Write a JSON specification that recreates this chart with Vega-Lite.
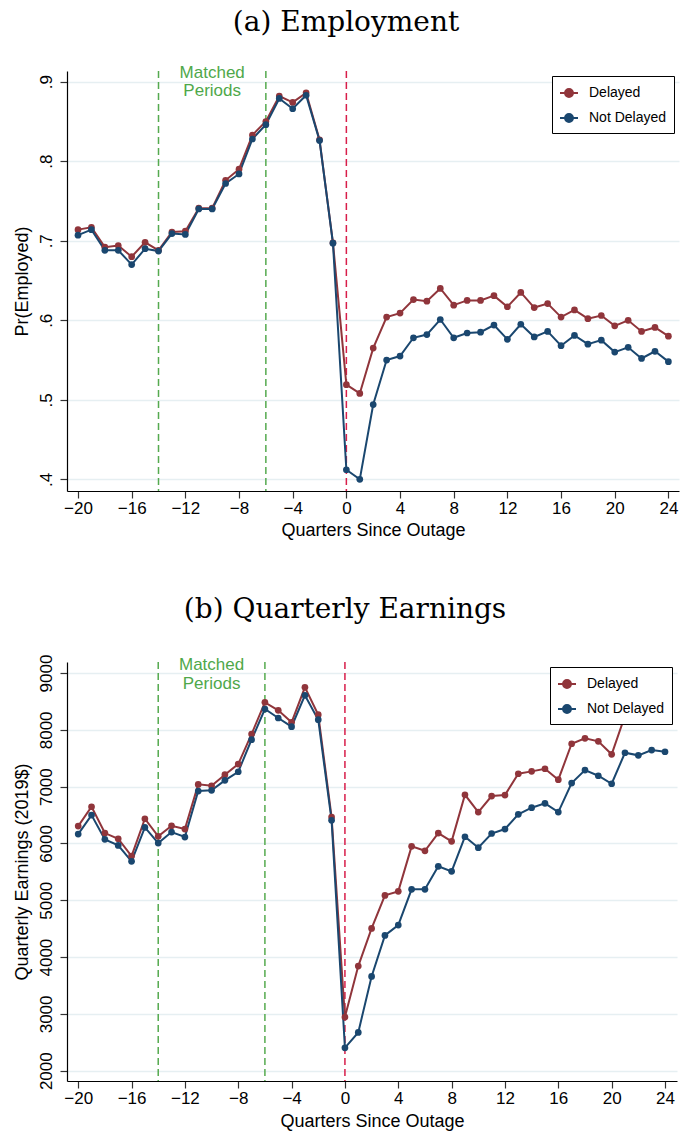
{
  "$schema": "https://vega.github.io/schema/vega-lite/v6.json",
  "padding": {"left": 12, "top": 8, "right": 2, "bottom": 2},
  "spacing": 57,
  "background": "white",
  "resolve": {"legend": {"color": "independent"}},
  "datasets": {
    "emp": [
      {"q": -20, "group": "Delayed", "v": 0.714}, {"q": -19, "group": "Delayed", "v": 0.717}, {"q": -18, "group": "Delayed", "v": 0.692}, {"q": -17, "group": "Delayed", "v": 0.694}, {"q": -16, "group": "Delayed", "v": 0.680}, {"q": -15, "group": "Delayed", "v": 0.698}, {"q": -14, "group": "Delayed", "v": 0.688}, {"q": -13, "group": "Delayed", "v": 0.711}, {"q": -12, "group": "Delayed", "v": 0.712}, {"q": -11, "group": "Delayed", "v": 0.741}, {"q": -10, "group": "Delayed", "v": 0.741}, {"q": -9, "group": "Delayed", "v": 0.776}, {"q": -8, "group": "Delayed", "v": 0.790}, {"q": -7, "group": "Delayed", "v": 0.833}, {"q": -6, "group": "Delayed", "v": 0.850}, {"q": -5, "group": "Delayed", "v": 0.882}, {"q": -4, "group": "Delayed", "v": 0.874}, {"q": -3, "group": "Delayed", "v": 0.886}, {"q": -2, "group": "Delayed", "v": 0.827}, {"q": -1, "group": "Delayed", "v": 0.6975}, {"q": 0, "group": "Delayed", "v": 0.519}, {"q": 1, "group": "Delayed", "v": 0.508}, {"q": 2, "group": "Delayed", "v": 0.565}, {"q": 3, "group": "Delayed", "v": 0.604}, {"q": 4, "group": "Delayed", "v": 0.609}, {"q": 5, "group": "Delayed", "v": 0.626}, {"q": 6, "group": "Delayed", "v": 0.624}, {"q": 7, "group": "Delayed", "v": 0.640}, {"q": 8, "group": "Delayed", "v": 0.619}, {"q": 9, "group": "Delayed", "v": 0.625}, {"q": 10, "group": "Delayed", "v": 0.625}, {"q": 11, "group": "Delayed", "v": 0.631}, {"q": 12, "group": "Delayed", "v": 0.617}, {"q": 13, "group": "Delayed", "v": 0.635}, {"q": 14, "group": "Delayed", "v": 0.616}, {"q": 15, "group": "Delayed", "v": 0.621}, {"q": 16, "group": "Delayed", "v": 0.604}, {"q": 17, "group": "Delayed", "v": 0.613}, {"q": 18, "group": "Delayed", "v": 0.602}, {"q": 19, "group": "Delayed", "v": 0.606}, {"q": 20, "group": "Delayed", "v": 0.593}, {"q": 21, "group": "Delayed", "v": 0.600}, {"q": 22, "group": "Delayed", "v": 0.586}, {"q": 23, "group": "Delayed", "v": 0.591}, {"q": 24, "group": "Delayed", "v": 0.580},
      {"q": -20, "group": "Not Delayed", "v": 0.707}, {"q": -19, "group": "Not Delayed", "v": 0.714}, {"q": -18, "group": "Not Delayed", "v": 0.688}, {"q": -17, "group": "Not Delayed", "v": 0.688}, {"q": -16, "group": "Not Delayed", "v": 0.670}, {"q": -15, "group": "Not Delayed", "v": 0.690}, {"q": -14, "group": "Not Delayed", "v": 0.687}, {"q": -13, "group": "Not Delayed", "v": 0.709}, {"q": -12, "group": "Not Delayed", "v": 0.708}, {"q": -11, "group": "Not Delayed", "v": 0.740}, {"q": -10, "group": "Not Delayed", "v": 0.740}, {"q": -9, "group": "Not Delayed", "v": 0.772}, {"q": -8, "group": "Not Delayed", "v": 0.784}, {"q": -7, "group": "Not Delayed", "v": 0.828}, {"q": -6, "group": "Not Delayed", "v": 0.846}, {"q": -5, "group": "Not Delayed", "v": 0.879}, {"q": -4, "group": "Not Delayed", "v": 0.866}, {"q": -3, "group": "Not Delayed", "v": 0.883}, {"q": -2, "group": "Not Delayed", "v": 0.826}, {"q": -1, "group": "Not Delayed", "v": 0.697}, {"q": 0, "group": "Not Delayed", "v": 0.412}, {"q": 1, "group": "Not Delayed", "v": 0.400}, {"q": 2, "group": "Not Delayed", "v": 0.494}, {"q": 3, "group": "Not Delayed", "v": 0.550}, {"q": 4, "group": "Not Delayed", "v": 0.555}, {"q": 5, "group": "Not Delayed", "v": 0.578}, {"q": 6, "group": "Not Delayed", "v": 0.582}, {"q": 7, "group": "Not Delayed", "v": 0.601}, {"q": 8, "group": "Not Delayed", "v": 0.578}, {"q": 9, "group": "Not Delayed", "v": 0.584}, {"q": 10, "group": "Not Delayed", "v": 0.585}, {"q": 11, "group": "Not Delayed", "v": 0.594}, {"q": 12, "group": "Not Delayed", "v": 0.576}, {"q": 13, "group": "Not Delayed", "v": 0.595}, {"q": 14, "group": "Not Delayed", "v": 0.579}, {"q": 15, "group": "Not Delayed", "v": 0.586}, {"q": 16, "group": "Not Delayed", "v": 0.568}, {"q": 17, "group": "Not Delayed", "v": 0.581}, {"q": 18, "group": "Not Delayed", "v": 0.570}, {"q": 19, "group": "Not Delayed", "v": 0.575}, {"q": 20, "group": "Not Delayed", "v": 0.560}, {"q": 21, "group": "Not Delayed", "v": 0.566}, {"q": 22, "group": "Not Delayed", "v": 0.552}, {"q": 23, "group": "Not Delayed", "v": 0.561}, {"q": 24, "group": "Not Delayed", "v": 0.548}
    ],
    "earn": [
      {"q": -20, "group": "Delayed", "v": 6306}, {"q": -19, "group": "Delayed", "v": 6646}, {"q": -18, "group": "Delayed", "v": 6183}, {"q": -17, "group": "Delayed", "v": 6083}, {"q": -16, "group": "Delayed", "v": 5778}, {"q": -15, "group": "Delayed", "v": 6435}, {"q": -14, "group": "Delayed", "v": 6125}, {"q": -13, "group": "Delayed", "v": 6312}, {"q": -12, "group": "Delayed", "v": 6254}, {"q": -11, "group": "Delayed", "v": 7040}, {"q": -10, "group": "Delayed", "v": 7016}, {"q": -9, "group": "Delayed", "v": 7210}, {"q": -8, "group": "Delayed", "v": 7398}, {"q": -7, "group": "Delayed", "v": 7926}, {"q": -6, "group": "Delayed", "v": 8484}, {"q": -5, "group": "Delayed", "v": 8343}, {"q": -4, "group": "Delayed", "v": 8132}, {"q": -3, "group": "Delayed", "v": 8748}, {"q": -2, "group": "Delayed", "v": 8266}, {"q": -1, "group": "Delayed", "v": 6465}, {"q": 0, "group": "Delayed", "v": 2944}, {"q": 1, "group": "Delayed", "v": 3842}, {"q": 2, "group": "Delayed", "v": 4505}, {"q": 3, "group": "Delayed", "v": 5086}, {"q": 4, "group": "Delayed", "v": 5157}, {"q": 5, "group": "Delayed", "v": 5949}, {"q": 6, "group": "Delayed", "v": 5871}, {"q": 7, "group": "Delayed", "v": 6183}, {"q": 8, "group": "Delayed", "v": 6037}, {"q": 9, "group": "Delayed", "v": 6857}, {"q": 10, "group": "Delayed", "v": 6553}, {"q": 11, "group": "Delayed", "v": 6835}, {"q": 12, "group": "Delayed", "v": 6852}, {"q": 13, "group": "Delayed", "v": 7227}, {"q": 14, "group": "Delayed", "v": 7269}, {"q": 15, "group": "Delayed", "v": 7315}, {"q": 16, "group": "Delayed", "v": 7122}, {"q": 17, "group": "Delayed", "v": 7755}, {"q": 18, "group": "Delayed", "v": 7850}, {"q": 19, "group": "Delayed", "v": 7797}, {"q": 20, "group": "Delayed", "v": 7569}, {"q": 21, "group": "Delayed", "v": 8250}, {"q": 22, "group": "Delayed", "v": 8350}, {"q": 23, "group": "Delayed", "v": 8450}, {"q": 24, "group": "Delayed", "v": 8400},
      {"q": -20, "group": "Not Delayed", "v": 6165}, {"q": -19, "group": "Not Delayed", "v": 6500}, {"q": -18, "group": "Not Delayed", "v": 6072}, {"q": -17, "group": "Not Delayed", "v": 5966}, {"q": -16, "group": "Not Delayed", "v": 5685}, {"q": -15, "group": "Not Delayed", "v": 6283}, {"q": -14, "group": "Not Delayed", "v": 6007}, {"q": -13, "group": "Not Delayed", "v": 6201}, {"q": -12, "group": "Not Delayed", "v": 6113}, {"q": -11, "group": "Not Delayed", "v": 6923}, {"q": -10, "group": "Not Delayed", "v": 6935}, {"q": -9, "group": "Not Delayed", "v": 7111}, {"q": -8, "group": "Not Delayed", "v": 7262}, {"q": -7, "group": "Not Delayed", "v": 7826}, {"q": -6, "group": "Not Delayed", "v": 8366}, {"q": -5, "group": "Not Delayed", "v": 8208}, {"q": -4, "group": "Not Delayed", "v": 8055}, {"q": -3, "group": "Not Delayed", "v": 8607}, {"q": -2, "group": "Not Delayed", "v": 8178}, {"q": -1, "group": "Not Delayed", "v": 6407}, {"q": 0, "group": "Not Delayed", "v": 2403}, {"q": 1, "group": "Not Delayed", "v": 2674}, {"q": 2, "group": "Not Delayed", "v": 3660}, {"q": 3, "group": "Not Delayed", "v": 4382}, {"q": 4, "group": "Not Delayed", "v": 4563}, {"q": 5, "group": "Not Delayed", "v": 5192}, {"q": 6, "group": "Not Delayed", "v": 5192}, {"q": 7, "group": "Not Delayed", "v": 5597}, {"q": 8, "group": "Not Delayed", "v": 5509}, {"q": 9, "group": "Not Delayed", "v": 6118}, {"q": 10, "group": "Not Delayed", "v": 5925}, {"q": 11, "group": "Not Delayed", "v": 6175}, {"q": 12, "group": "Not Delayed", "v": 6254}, {"q": 13, "group": "Not Delayed", "v": 6512}, {"q": 14, "group": "Not Delayed", "v": 6629}, {"q": 15, "group": "Not Delayed", "v": 6706}, {"q": 16, "group": "Not Delayed", "v": 6553}, {"q": 17, "group": "Not Delayed", "v": 7063}, {"q": 18, "group": "Not Delayed", "v": 7292}, {"q": 19, "group": "Not Delayed", "v": 7192}, {"q": 20, "group": "Not Delayed", "v": 7051}, {"q": 21, "group": "Not Delayed", "v": 7597}, {"q": 22, "group": "Not Delayed", "v": 7551}, {"q": 23, "group": "Not Delayed", "v": 7644}, {"q": 24, "group": "Not Delayed", "v": 7614}
    ]
  },
  "vconcat": [
    {
      "title": {"text": "(a) Employment", "offset": 27},
      "width": 612,
      "height": 420,
      "encoding": {
        "x": {"field": "q", "type": "quantitative", "scale": {"domain": [-20.82, 24.79], "nice": false, "zero": false},
              "axis": {"values": [-20, -16, -12, -8, -4, 0, 4, 8, 12, 16, 20, 24], "title": "Quarters Since Outage", "grid": false, "labelPadding": 2, "titlePadding": 5}}
      },
      "layer": [
        {"data": {"values": [{"q": -14}, {"q": -6}]}, "mark": {"type": "rule", "color": "#55aa4f", "strokeDash": [7, 4], "strokeWidth": 1.5}},
        {"data": {"values": [{"q": 0}]}, "mark": {"type": "rule", "color": "#d81e4a", "strokeDash": [7, 4], "strokeWidth": 1.5}},
        {"data": {"values": [{"q": -10, "v": 0.9047, "label": "Matched Periods"}]},
         "mark": {"type": "text", "lineBreak": " ", "color": "#4fa84a", "font": "Liberation Sans", "fontSize": 17, "baseline": "alphabetic", "align": "center", "lineHeight": 18.5},
         "encoding": {"y": {"field": "v", "type": "quantitative", "scale": {"domain": [0.3853, 0.9135], "nice": false, "zero": false}}, "text": {"field": "label"}}},
        {"data": {"name": "emp"}, "mark": {"type": "line", "strokeWidth": 2},
         "encoding": {
           "y": {"field": "v", "type": "quantitative", "scale": {"domain": [0.3853, 0.9135], "nice": false, "zero": false},
                 "axis": {"values": [0.4, 0.5, 0.6, 0.7, 0.8, 0.9], "labelExpr": "replace(format(datum.value, '.1f'), '0.', '.')", "labelAngle": 270, "labelAlign": "center", "labelBaseline": "bottom", "labelPadding": 5, "title": "Pr(Employed)", "titlePadding": 6, "grid": true}},
           "color": {"field": "group", "type": "nominal", "scale": {"domain": ["Delayed", "Not Delayed"], "range": ["#90353b", "#1a476f"]},
                     "legend": {"title": null, "encode": {"symbols": {"update": {"fill": {"signal": "scale('color', datum.value)"}, "stroke": {"signal": "scale('color', datum.value)"}, "strokeWidth": {"value": 2}, "opacity": {"value": 1}}}}}}
         }},
        {"data": {"name": "emp"}, "mark": {"type": "point", "filled": true, "size": 45, "opacity": 1},
         "encoding": {
           "y": {"field": "v", "type": "quantitative", "scale": {"domain": [0.3853, 0.9135], "nice": false, "zero": false}},
           "color": {"field": "group", "type": "nominal", "scale": {"domain": ["Delayed", "Not Delayed"], "range": ["#90353b", "#1a476f"]},
                     "legend": {"title": null, "encode": {"symbols": {"update": {"fill": {"signal": "scale('color', datum.value)"}, "stroke": {"signal": "scale('color', datum.value)"}, "strokeWidth": {"value": 2}, "opacity": {"value": 1}}}}}}
         }}
      ]
    },
    {
      "title": {"text": "(b) Quarterly Earnings", "offset": 30},
      "width": 610,
      "height": 419,
      "encoding": {
        "x": {"field": "q", "type": "quantitative", "scale": {"domain": [-20.84, 24.9], "nice": false, "zero": false},
              "axis": {"values": [-20, -16, -12, -8, -4, 0, 4, 8, 12, 16, 20, 24], "title": "Quarters Since Outage", "grid": false, "labelPadding": 2, "titlePadding": 6}}
      },
      "layer": [
        {"data": {"values": [{"q": -14}, {"q": -6}]}, "mark": {"type": "rule", "color": "#55aa4f", "strokeDash": [7, 4], "strokeWidth": 1.5}},
        {"data": {"values": [{"q": 0}]}, "mark": {"type": "rule", "color": "#d81e4a", "strokeDash": [7, 4], "strokeWidth": 1.5}},
        {"data": {"values": [{"q": -10, "v": 9048, "label": "Matched Periods"}]},
         "mark": {"type": "text", "lineBreak": " ", "color": "#4fa84a", "font": "Liberation Sans", "fontSize": 17, "baseline": "alphabetic", "align": "center", "lineHeight": 18.5},
         "encoding": {"y": {"field": "v", "type": "quantitative", "scale": {"domain": [1819, 9194], "nice": false, "zero": false}}, "text": {"field": "label"}}},
        {"data": {"name": "earn"}, "mark": {"type": "line", "strokeWidth": 2},
         "encoding": {
           "y": {"field": "v", "type": "quantitative", "scale": {"domain": [1819, 9194], "nice": false, "zero": false},
                 "axis": {"values": [2000, 3000, 4000, 5000, 6000, 7000, 8000, 9000], "format": "d", "labelAngle": 270, "labelAlign": "center", "labelBaseline": "bottom", "labelPadding": 5, "title": "Quarterly Earnings (2019$)", "titlePadding": 6, "grid": true}},
           "color": {"field": "group", "type": "nominal", "scale": {"domain": ["Delayed", "Not Delayed"], "range": ["#90353b", "#1a476f"]},
                     "legend": {"title": null, "encode": {"symbols": {"update": {"fill": {"signal": "scale('color', datum.value)"}, "stroke": {"signal": "scale('color', datum.value)"}, "strokeWidth": {"value": 2}, "opacity": {"value": 1}}}}}}
         }},
        {"data": {"name": "earn"}, "mark": {"type": "point", "filled": true, "size": 45, "opacity": 1},
         "encoding": {
           "y": {"field": "v", "type": "quantitative", "scale": {"domain": [1819, 9194], "nice": false, "zero": false}},
           "color": {"field": "group", "type": "nominal", "scale": {"domain": ["Delayed", "Not Delayed"], "range": ["#90353b", "#1a476f"]},
                     "legend": {"title": null, "encode": {"symbols": {"update": {"fill": {"signal": "scale('color', datum.value)"}, "stroke": {"signal": "scale('color', datum.value)"}, "strokeWidth": {"value": 2}, "opacity": {"value": 1}}}}}}
         }}
      ]
    }
  ],
  "config": {
    "font": "Liberation Sans",
    "view": {"stroke": null},
    "axis": {"labelFont": "Liberation Sans", "labelFontSize": 17, "labelColor": "#000", "titleFont": "Liberation Sans", "titleFontSize": 18, "titleFontWeight": "normal", "titleColor": "#000", "domainColor": "#000", "domainWidth": 1.2, "tickColor": "#333", "tickSize": 7, "tickWidth": 1.2, "gridColor": "#e6eff2", "gridWidth": 1.5},
    "title": {"font": "DejaVu Serif", "fontSize": 28, "fontWeight": "normal", "color": "#000", "frame": "bounds", "anchor": "middle", "baseline": "alphabetic"},
    "legend": {"orient": "top-right", "offset": 5, "strokeColor": "#000", "fillColor": "#fff", "padding": 7, "labelFont": "Liberation Sans", "labelFontSize": 14, "labelColor": "#000", "symbolType": "M-1,0L1,0M-0.44,0A0.44,0.44,0,1,0,0.44,0A0.44,0.44,0,1,0,-0.44,0Z", "symbolSize": 324, "symbolStrokeWidth": 2, "rowPadding": 7, "labelOffset": 10, "zindex": 1}
  }
}
